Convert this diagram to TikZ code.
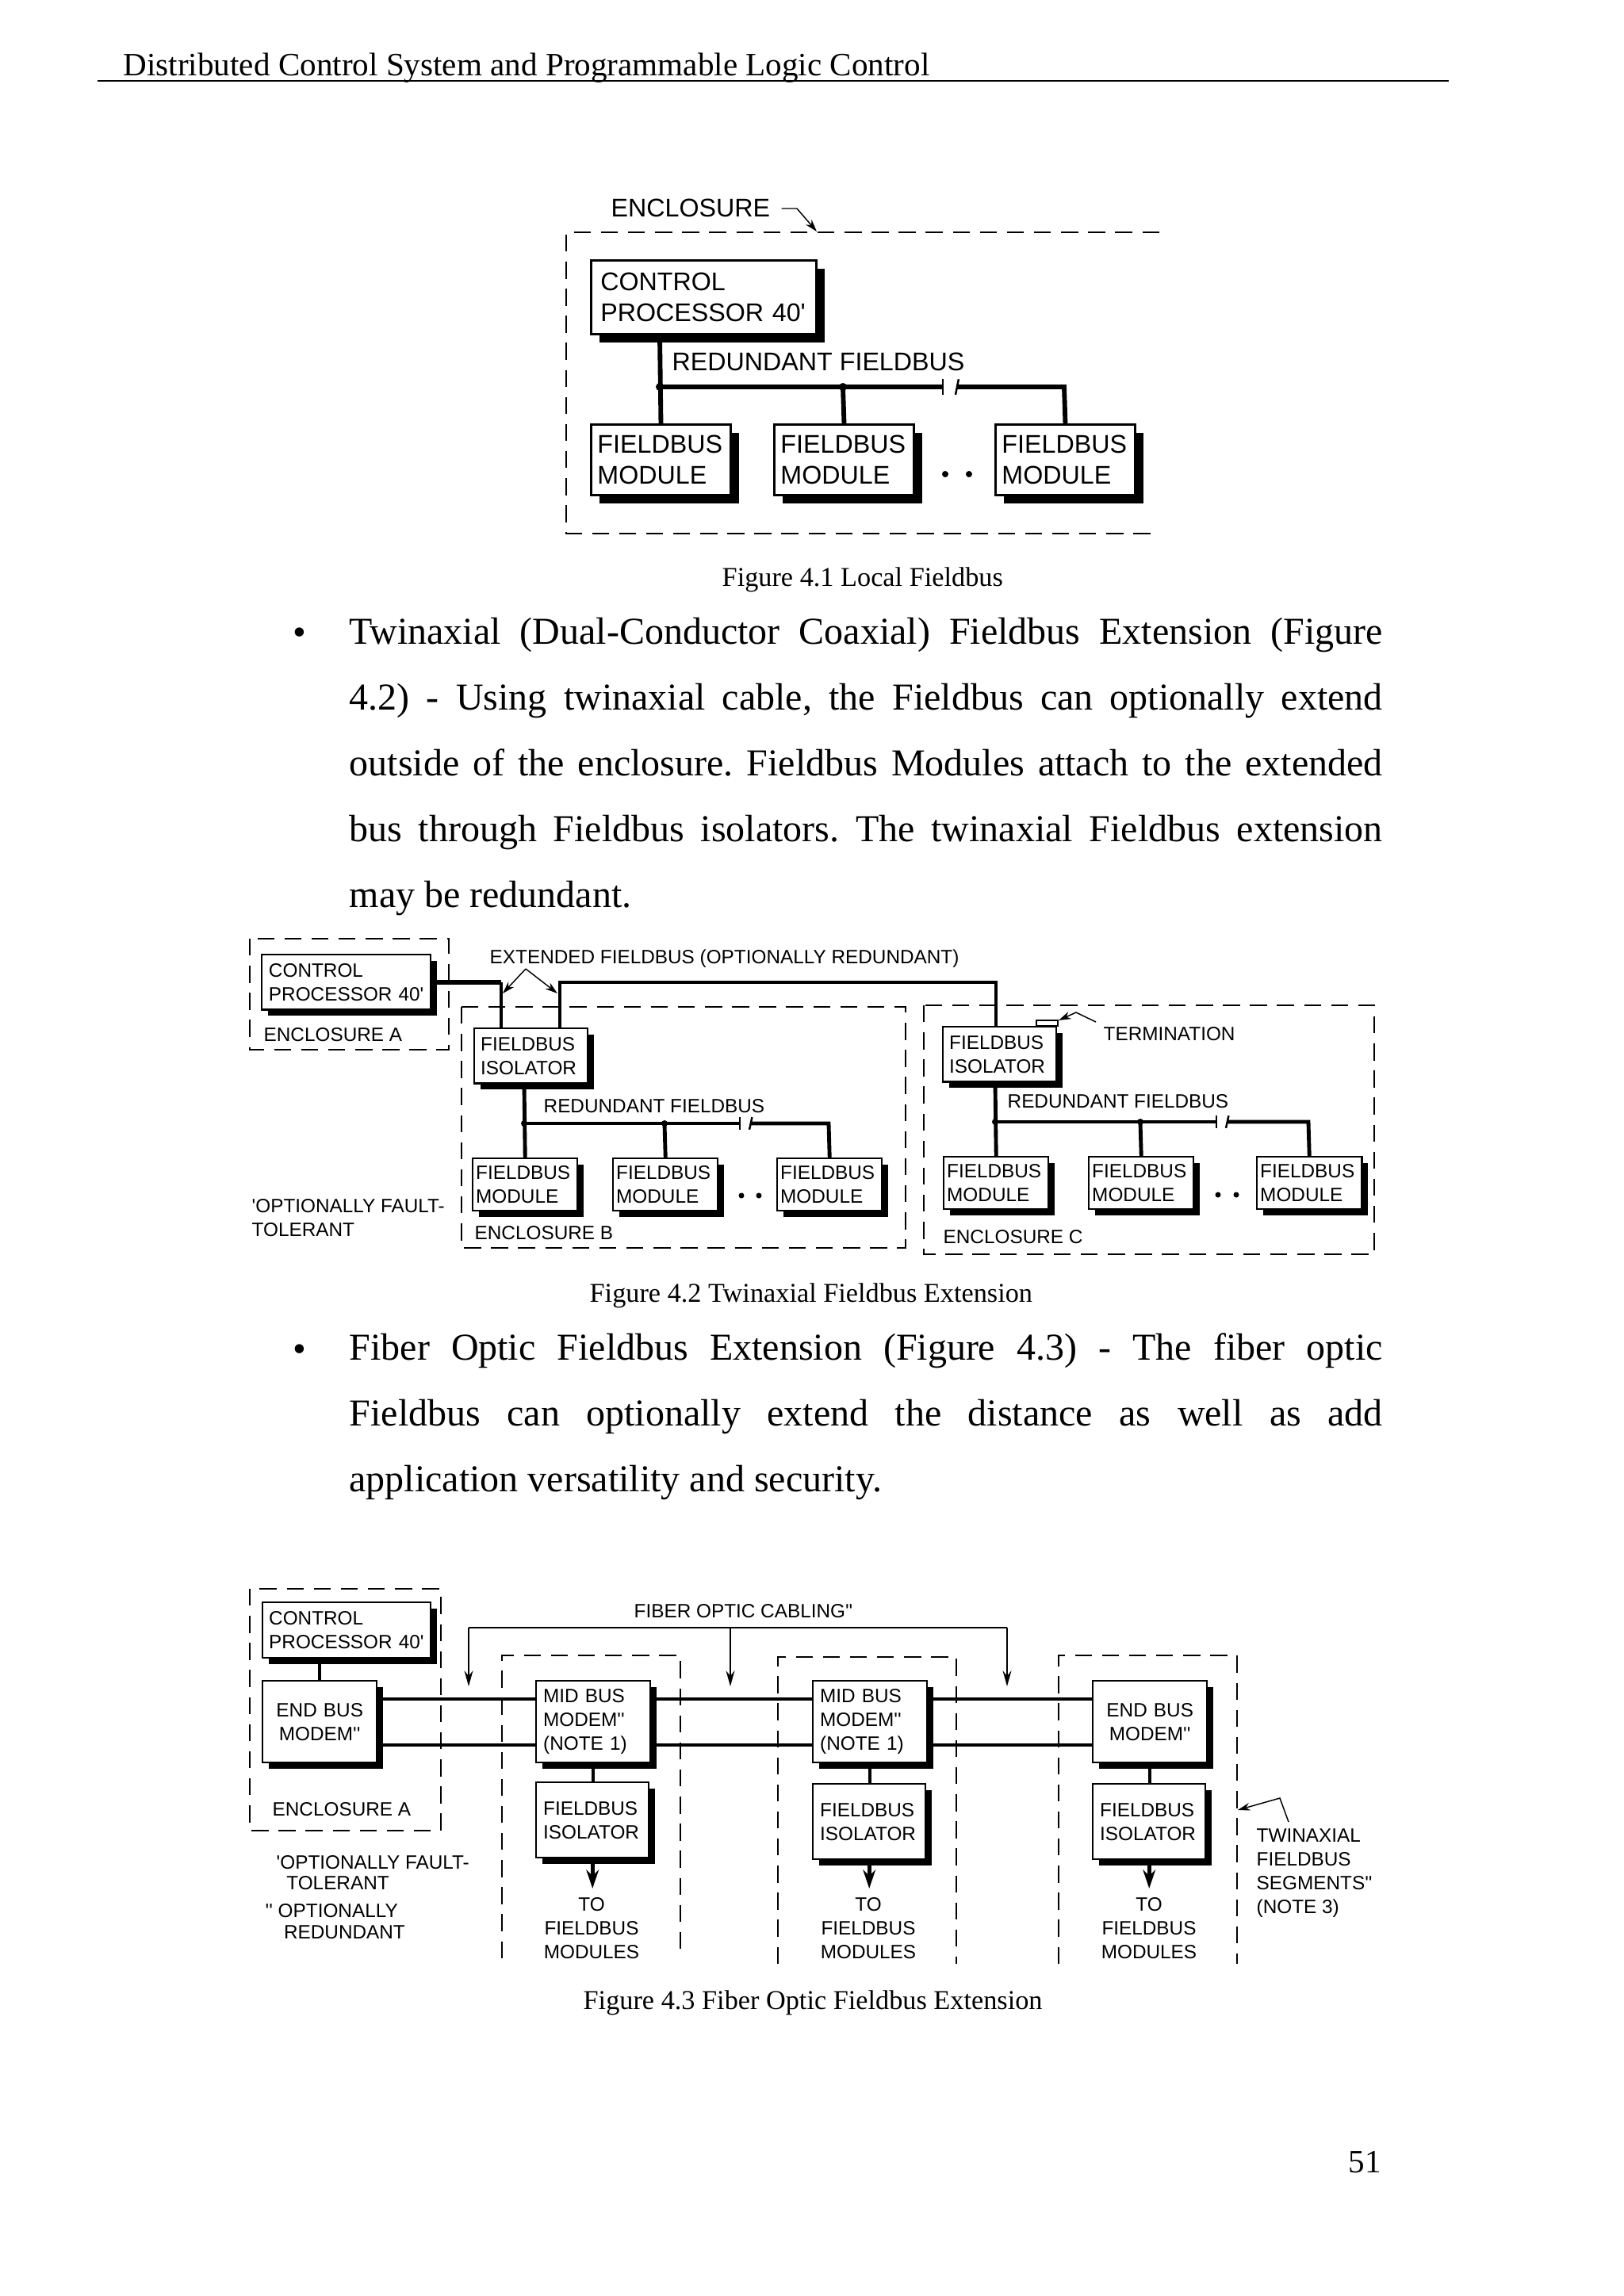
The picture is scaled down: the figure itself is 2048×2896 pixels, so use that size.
\documentclass[tikz,border=0pt]{standalone}
\usepackage{fontspec}
\setmainfont{Liberation Serif}
\newfontfamily\figsans{Liberation Sans}
\usetikzlibrary{arrows.meta,shadows}
\frenchspacing

\newcommand{\figA}{\figsans\fontsize{9.4}{11.3}\selectfont}
\newcommand{\figB}{\figsans\fontsize{7.1}{8.7}\selectfont}

\tikzset{
  encl/.style={line width=0.2mm, dash pattern=on 2.2mm off 1.3mm},
  blk/.style={draw, fill=white, anchor=north west, inner ysep=0pt, align=left},
  shadA/.style={drop shadow={shadow xshift=1.03mm, shadow yshift=-1.03mm, fill=black, opacity=1}},
  shadB/.style={drop shadow={shadow xshift=0.82mm, shadow yshift=-0.82mm, fill=black, opacity=1}},
  cpboxA/.style={blk, shadA, line width=0.3mm, font=\figA, minimum width=29.12mm, minimum height=9.54mm, inner xsep=1.2mm, text width=26.7mm},
  modboxA/.style={blk, shadA, line width=0.3mm, font=\figA, minimum width=18.05mm, minimum height=9.13mm, inner xsep=0.82mm, text width=16.41mm},
  cpboxB/.style={blk, shadB, line width=0.25mm, font=\figB, minimum width=21.84mm, minimum height=7.08mm, inner xsep=0.9mm, text width=20.04mm},
  isoboxB/.style={blk, shadB, line width=0.25mm, font=\figB, minimum width=14.66mm, minimum height=7.08mm, inner xsep=0.82mm, text width=13.02mm},
  modboxB/.style={blk, shadB, line width=0.25mm, font=\figB, minimum width=13.54mm, minimum height=6.77mm, inner xsep=0.41mm, text width=12.72mm},
  cpboxC/.style={blk, shadB, line width=0.25mm, font=\figB, minimum width=21.74mm, minimum height=7.18mm, inner xsep=0.82mm, text width=20.1mm},
  modemboxC/.style={blk, shadB, line width=0.25mm, font=\figB, minimum width=14.77mm, minimum height=10.56mm, inner xsep=0.92mm, text width=12.93mm},
  isoboxC/.style={blk, shadB, line width=0.25mm, font=\figB, minimum width=14.56mm, minimum height=9.74mm, inner xsep=0.92mm, text width=12.72mm},
  lblA/.style={font=\figA, inner sep=0pt, anchor=base west, align=left},
  lblB/.style={font=\figB, inner sep=0pt, anchor=base west, align=left},
  busA/.style={line width=0.6mm},
  busB/.style={line width=0.5mm},
  tick/.style={line width=0.25mm},
  ext/.style={line width=0.45mm},
  link/.style={line width=0.45mm},
  pair/.style={line width=0.4mm},
  cable/.style={line width=0.28mm},
  cablearr/.style={cable, -{Stealth[length=2mm, width=1.1mm]}},
  feed/.style={line width=0.5mm, -{Stealth[length=2.4mm, width=1.6mm]}},
  ptr/.style={line width=0.15mm, -{Stealth[length=1.6mm, width=1mm]}},
  body/.style={font=\fontsize{14}{16.8}\selectfont, inner sep=0pt, anchor=base west},
  bul/.style={font=\fontsize{14}{16.8}\selectfont, inner sep=0pt},
  capt/.style={font=\fontsize{10}{12}\selectfont, inner sep=0pt, anchor=base west},
  hdr/.style={font=\fontsize{12}{14.4}\selectfont, inner sep=0pt, anchor=base west}
}

\begin{document}
\begin{tikzpicture}[x=0.10254mm, y=-0.10254mm]
	\useasboundingbox (0,0) rectangle (2048,2896) ;
	% page head
	\node [hdr] (head) at (155,95) {Distributed Control System and Programmable Logic Control} ;
	\draw [line width=0.22mm] (123,102) -- (1827,102) ;

	% Figure 4.1
	\node [lblA] (enc41) at (770,273) {ENCLOSURE} ;
	\coordinate (enc41a) at (1005,263) ;
	\coordinate (enc41b) at (1030,292) ;
	\draw [ptr] ([xshift=1.4mm]enc41.east |- enc41a) -- (enc41a) -- (enc41b) ;
	\draw [encl] (1462,293) -- (714,293) -- (714,673) -- (1462,673) ;
	\node [cpboxA] (cp41) at (744,327) {CONTROL\\PROCESSOR~40'} ;
	\node [modboxA] (m411) at (744,534) {FIELDBUS\\MODULE} ;
	\node [modboxA] (m412) at (975,534) {FIELDBUS\\MODULE} ;
	\node [modboxA] (m413) at (1254,534) {FIELDBUS\\MODULE} ;
	\node [lblA] (rfb41) at (847,467) {REDUNDANT FIELDBUS} ;
	\coordinate (j411) at (832,488) ;
	\coordinate (j412) at (1063,488) ;
	\coordinate (j413) at (1342,488) ;
	\coordinate (g41l) at (1189,488) ;
	\coordinate (g41r) at (1206,488) ;
	\draw [busA] (j411 |- cp41.south) -- (m411.north) ;
	\draw [busA] (j411) -- (g41l) ;
	\draw [busA] (g41r) -- (j413) -- (m413.north) ;
	\draw [busA] (j412) -- (m412.north) ;
	\fill (j411) circle (5) ;
	\fill (j412) circle (5) ;
	\draw [tick] ([yshift=1mm]g41l) -- ([yshift=-1mm]g41l) ;
	\draw [tick] ([xshift=0.3mm,yshift=1mm]g41r) -- ([xshift=-0.1mm,yshift=-1mm]g41r) ;
	\fill (1192,598) circle (4) ;
	\fill (1222,598) circle (4) ;
	\node [capt] (cap41) at (910,739) {Figure 4.1 Local Fieldbus} ;

	% first bullet
	\node [bul] (bul1) at (378,803) {\textbullet} ;
	\node [body] (p1a) at (440,812) {\makebox[133.6mm][s]{Twinaxial (Dual-Conductor Coaxial) Fieldbus Extension (Figure}} ;
	\node [body] (p1b) at (440,895) {\makebox[133.6mm][s]{4.2) - Using twinaxial cable, the Fieldbus can optionally extend}} ;
	\node [body] (p1c) at (440,978) {\makebox[133.6mm][s]{outside of the enclosure. Fieldbus Modules attach to the extended}} ;
	\node [body] (p1d) at (440,1061) {\makebox[133.6mm][s]{bus through Fieldbus isolators. The twinaxial Fieldbus extension}} ;
	\node [body] (p1e) at (440,1144) {may be redundant.} ;

	% Figure 4.2
	\draw [encl] (315,1184) rectangle (566,1324) ;
	\node [cpboxB] (cp42) at (329,1203) {CONTROL\\PROCESSOR~40'} ;
	\node [lblB] (encA42) at (332,1313) {ENCLOSURE A} ;
	\node [lblB] (ext42) at (617,1215) {EXTENDED FIELDBUS (OPTIONALLY REDUNDANT)} ;
	\draw [encl] (582,1270) rectangle (1142,1574) ;
	\draw [encl] (1165,1268) rectangle (1733,1582) ;
	\node [isoboxB] (isoB) at (597,1296) {FIELDBUS\\ISOLATOR} ;
	\node [isoboxB] (isoC) at (1188,1294) {FIELDBUS\\ISOLATOR} ;
	\coordinate (xa) at (632,1239) ;
	\coordinate (xb) at (706,1239) ;
	\coordinate (xc) at (1256,1239) ;
	\draw [line width=0.7mm] (cp42.east |- xa) -- (xa) ;
	\draw [line width=0.35mm] (xa) -- (xa |- isoB.north) ;
	\draw [ext] (xb |- isoB.north) -- (xb) -- (xc) -- (xc |- isoC.north) ;
	\coordinate (xp) at (663,1222) ;
	\coordinate (xpl) at (634,1253) ;
	\coordinate (xpr) at (703,1253) ;
	\draw [ptr] (xp) -- (xpl) ;
	\draw [ptr] (xp) -- (xpr) ;
	% termination
	\node [lblB] (term) at (1391,1312) {TERMINATION} ;
	\draw [line width=0.2mm] (1307,1287) rectangle (1334,1294) ;
	\coordinate (tm1) at (1382,1289) ;
	\coordinate (tm2) at (1357,1277) ;
	\coordinate (tm3) at (1335,1287) ;
	\draw [ptr] (tm1) -- (tm2) -- (tm3) ;
	% enclosure B
	\node [lblB] (rfbB) at (685,1403) {REDUNDANT FIELDBUS} ;
	\node [modboxB] (m421) at (595,1460) {FIELDBUS\\MODULE} ;
	\node [modboxB] (m422) at (772,1460) {FIELDBUS\\MODULE} ;
	\node [modboxB] (m423) at (979,1460) {FIELDBUS\\MODULE} ;
	\coordinate (j421) at (661,1417) ;
	\coordinate (j422) at (838,1417) ;
	\coordinate (j423) at (1045,1417) ;
	\coordinate (g42l) at (933,1417) ;
	\coordinate (g42r) at (946,1417) ;
	\draw [busB] (j421 |- isoB.south) -- (m421.north) ;
	\draw [busB] (j421) -- (g42l) ;
	\draw [busB] (g42r) -- (j423) -- (m423.north) ;
	\draw [busB] (j422) -- (m422.north) ;
	\fill (j421) circle (4) ;
	\fill (j422) circle (4) ;
	\draw [tick] ([yshift=0.8mm]g42l) -- ([yshift=-0.8mm]g42l) ;
	\draw [tick] ([xshift=0.25mm,yshift=0.8mm]g42r) -- ([xshift=-0.1mm,yshift=-0.8mm]g42r) ;
	\fill (935,1508) circle (3.5) ;
	\fill (957,1508) circle (3.5) ;
	\node [lblB] (encB42) at (598,1563) {ENCLOSURE B} ;
	% enclosure C
	\node [lblB] (rfbC) at (1270,1397) {REDUNDANT FIELDBUS} ;
	\node [modboxB] (m431) at (1189,1458) {FIELDBUS\\MODULE} ;
	\node [modboxB] (m432) at (1372,1458) {FIELDBUS\\MODULE} ;
	\node [modboxB] (m433) at (1584,1458) {FIELDBUS\\MODULE} ;
	\coordinate (j431) at (1255,1415) ;
	\coordinate (j432) at (1438,1415) ;
	\coordinate (j433) at (1650,1415) ;
	\coordinate (g43l) at (1534,1415) ;
	\coordinate (g43r) at (1547,1415) ;
	\draw [busB] (j431 |- isoC.south) -- (m431.north) ;
	\draw [busB] (j431) -- (g43l) ;
	\draw [busB] (g43r) -- (j433) -- (m433.north) ;
	\draw [busB] (j432) -- (m432.north) ;
	\fill (j431) circle (4) ;
	\fill (j432) circle (4) ;
	\draw [tick] ([yshift=0.8mm]g43l) -- ([yshift=-0.8mm]g43l) ;
	\draw [tick] ([xshift=0.25mm,yshift=0.8mm]g43r) -- ([xshift=-0.1mm,yshift=-0.8mm]g43r) ;
	\fill (1536,1507) circle (3.5) ;
	\fill (1559,1507) circle (3.5) ;
	\node [lblB] (encC42) at (1189,1568) {ENCLOSURE C} ;
	\node [lblB] (opt42) at (317,1559) {'OPTIONALLY FAULT-\\TOLERANT} ;
	\node [capt] (cap42) at (743,1642) {Figure 4.2 Twinaxial Fieldbus Extension} ;

	% second bullet
	\node [bul] (bul2) at (378,1707) {\textbullet} ;
	\node [body] (p2a) at (440,1715) {\makebox[133.6mm][s]{Fiber Optic Fieldbus Extension (Figure 4.3) - The fiber optic}} ;
	\node [body] (p2b) at (440,1798) {\makebox[133.6mm][s]{Fieldbus can optionally extend the distance as well as add}} ;
	\node [body] (p2c) at (440,1881) {application versatility and security.} ;

	% Figure 4.3
	\draw [encl] (315,2004) rectangle (556,2309) ;
	\node [cpboxC] (cp43) at (330,2020) {CONTROL\\PROCESSOR~40'} ;
	\node [modemboxC, align=center] (endA) at (330,2119) {END BUS\\MODEM''} ;
	\draw [link] (endA.north |- cp43.south) -- (endA.north) ;
	\node [lblB] (encA43) at (343,2290) {ENCLOSURE A} ;
	\node [lblB] (fofc) at (799,2040) {FIBER OPTIC CABLING''} ;
	\coordinate (fa) at (591,2053) ;
	\coordinate (fb) at (921,2053) ;
	\coordinate (fc) at (1270,2053) ;
	\coordinate (ta) at (591,2127) ;
	\coordinate (tb) at (921,2127) ;
	\coordinate (tc) at (1270,2127) ;
	\draw [cable] (fa) -- (fc) ;
	\draw [cablearr] (fa) -- (ta) ;
	\draw [cablearr] (fb) -- (tb) ;
	\draw [cablearr] (fc) -- (tc) ;
	\draw [encl] (633,2470) -- (633,2088) -- (858,2088) -- (858,2470) ;
	\draw [encl] (981,2477) -- (981,2090) -- (1206,2090) -- (1206,2477) ;
	\draw [encl] (1335,2477) -- (1335,2088) -- (1560,2088) -- (1560,2477) ;
	\node [modemboxC] (mid1) at (675,2119) {MID BUS\\MODEM''\\(NOTE 1)} ;
	\node [modemboxC] (mid2) at (1024,2119) {MID BUS\\MODEM''\\(NOTE 1)} ;
	\node [modemboxC, align=center] (endC) at (1377,2119) {END BUS\\MODEM''} ;
	\node [isoboxC] (iso1) at (675,2247) {FIELDBUS\\ISOLATOR} ;
	\node [isoboxC] (iso2) at (1024,2249) {FIELDBUS\\ISOLATOR} ;
	\node [isoboxC] (iso3) at (1377,2249) {FIELDBUS\\ISOLATOR} ;
	\draw [pair] ([yshift=2.97mm]endA.east) -- ([yshift=2.97mm]mid1.west) ;
	\draw [pair] ([yshift=-2.97mm]endA.east) -- ([yshift=-2.97mm]mid1.west) ;
	\draw [pair] ([yshift=2.97mm]mid1.east) -- ([yshift=2.97mm]mid2.west) ;
	\draw [pair] ([yshift=-2.97mm]mid1.east) -- ([yshift=-2.97mm]mid2.west) ;
	\draw [pair] ([yshift=2.97mm]mid2.east) -- ([yshift=2.97mm]endC.west) ;
	\draw [pair] ([yshift=-2.97mm]mid2.east) -- ([yshift=-2.97mm]endC.west) ;
	\draw [link] (mid1.south) -- (mid1.south |- iso1.north) ;
	\draw [link] (mid2.south) -- (mid2.south |- iso2.north) ;
	\draw [link] (endC.south) -- (endC.south |- iso3.north) ;
	\node [lblB, anchor=base, align=center] (to1) at (746,2470) {TO\\FIELDBUS\\MODULES} ;
	\node [lblB, anchor=base, align=center] (to2) at (1095,2470) {TO\\FIELDBUS\\MODULES} ;
	\node [lblB, anchor=base, align=center] (to3) at (1449,2470) {TO\\FIELDBUS\\MODULES} ;
	\draw [feed] (iso1.south) -- ([yshift=1.1mm]iso1.south |- to1.north) ;
	\draw [feed] (iso2.south) -- ([yshift=1.1mm]iso2.south |- to2.north) ;
	\draw [feed] (iso3.south) -- ([yshift=1.1mm]iso3.south |- to3.north) ;
	\node [lblB] (twin) at (1584,2413) {TWINAXIAL\\FIELDBUS\\SEGMENTS''\\(NOTE 3)} ;
	\coordinate (tw1) at (1625,2298) ;
	\coordinate (tw2) at (1614,2268) ;
	\coordinate (tw3) at (1561,2283) ;
	\draw [ptr] (tw1) -- (tw2) -- (tw3) ;
	\node [lblB] (opt43) at (348,2383) {'OPTIONALLY FAULT-\\[-0.4mm]\hspace*{1.3mm}TOLERANT} ;
	\node [lblB] (red43) at (334,2445) {'' OPTIONALLY\\[-0.3mm]\hspace*{2.4mm}REDUNDANT} ;
	\node [capt] (cap43) at (735,2534) {Figure 4.3 Fiber Optic Fieldbus Extension} ;

	% page number
	\node [hdr] (pageno) at (1700,2740) {51} ;
\end{tikzpicture}
\end{document}
